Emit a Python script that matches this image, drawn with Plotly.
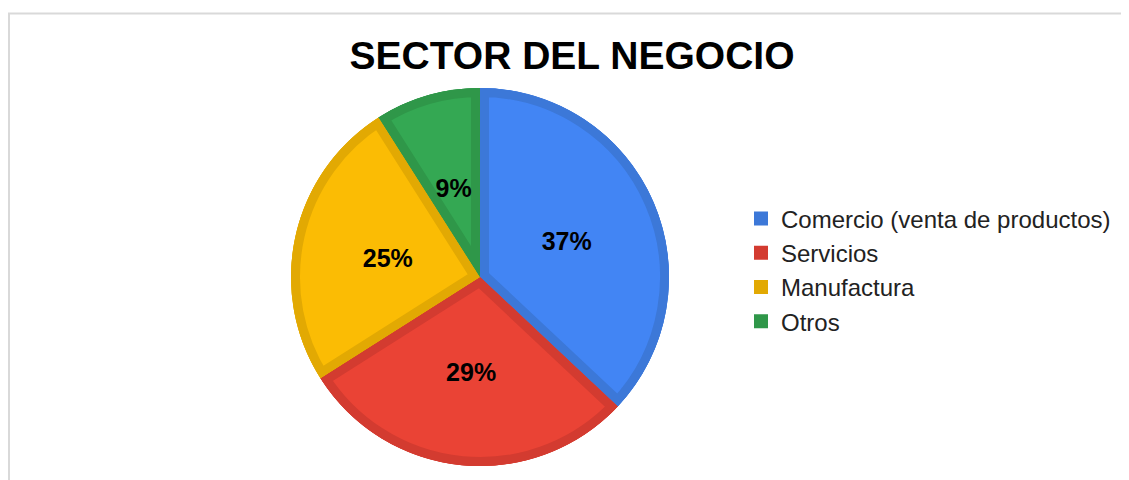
import math
import plotly.graph_objects as go

# sector data
sectors = ["Comercio (venta de productos)", "Servicios", "Manufactura", "Otros"]
shares = [37, 29, 25, 9]
fills = ["#4285F4", "#EA4335", "#FBBC04", "#34A853"]
edges = ["#3C78D8", "#D33B30", "#E2A903", "#2F9749"]

# page body has an 8px margin, so the figure is 8px smaller and shifted
W, H = 1121, 472
frame = "#D9D9D9"
R = 189          # pie radius in px
CX, CY = 472, 203  # pie centre in px (y from the bottom)
BAND = 9         # darker inner border of each slice
TEXT_DROP = 4    # plotly sits text a little high, nudge the label layer down

# slice angles from the shares (clockwise from 12 o'clock)
starts = [sum(shares[:i]) * 3.6 for i in range(len(shares))]
widths = [v * 3.6 for v in shares]
mids = [s + w / 2 for s, w in zip(starts, widths)]


def sector_bbox(a0, a1):
    # bounding box of a unit wedge (screen degrees, ccw from east), centre included
    pts = [(0.0, 0.0)]
    for a in [a0, a1] + [90 * k for k in range(-8, 9) if a0 < 90 * k < a1]:
        pts.append((math.cos(math.radians(a)), math.sin(math.radians(a))))
    xs, ys = zip(*pts)
    return min(xs), min(ys), max(xs), max(ys)


hidden_axes = dict(bgcolor="rgba(0,0,0,0)", hole=0,
                   radialaxis=dict(range=[0, 1], visible=False),
                   angularaxis=dict(direction="clockwise", rotation=90, visible=False))

fig = go.Figure()
layout_polars = {}

# base layer: full pie in the darker border colours (also gives the legend)
layout_polars["polar"] = dict(domain=dict(x=[(CX - R) / W, (CX + R) / W],
                                          y=[(CY - R) / H, (CY + R) / H]),
                              **hidden_axes)
for name, v, th, wd, ec in zip(sectors, shares, mids, widths, edges):
    fig.add_trace(go.Barpolar(r=[1], theta=[th], width=[wd],
                              name=name, subplot="polar",
                              marker=dict(color=ec, line=dict(color=ec, width=2)),
                              hovertemplate=name + ": " + str(v) + "%<extra></extra>"))

# one clipped wedge subplot per slice: a wide stroke clipped to the wedge
# leaves an even darker band on the inside of every edge
for i, (name, v, s, th, wd, fc, ec) in enumerate(
        zip(sectors, shares, starts, mids, widths, fills, edges)):
    key = "polar%d" % (i + 2)
    a0, a1 = 90 - (s + wd), 90 - s
    x0, y0, x1, y1 = sector_bbox(a0, a1)
    layout_polars[key] = dict(domain=dict(x=[(CX + R * x0) / W, (CX + R * x1) / W],
                                          y=[(CY + R * y0) / H, (CY + R * y1) / H]),
                              sector=[a0, a1], **hidden_axes)
    fig.add_trace(go.Barpolar(r=[1], theta=[th], width=[wd],
                              name=name, subplot=key, showlegend=False,
                              marker=dict(color=fc, line=dict(color=ec, width=2 * BAND)),
                              hovertemplate=name + ": " + str(v) + "%<extra></extra>"))

# percentage labels on their own layer, halfway out along each slice
key = "polar%d" % (len(shares) + 2)
cy_txt = CY - TEXT_DROP
layout_polars[key] = dict(domain=dict(x=[(CX - R) / W, (CX + R) / W],
                                      y=[(cy_txt - R) / H, (cy_txt + R) / H]),
                          **hidden_axes)
fig.add_trace(go.Scatterpolar(r=[0.5] * len(shares), theta=mids, subplot=key,
                              mode="text", text=[str(v) + "%" for v in shares],
                              cliponaxis=False,
                              textfont=dict(family="Liberation Sans, Arial", size=25,
                                            color="black", weight="bold"),
                              showlegend=False, hoverinfo="skip"))

fig.update_layout(width=W, height=H,
                  margin=dict(l=0, r=0, t=0, b=0),
                  paper_bgcolor="white",
                  plot_bgcolor="white",
                  font=dict(family="Liberation Sans, Arial", color="black"),
                  title=dict(text="SECTOR DEL NEGOCIO",
                             font=dict(size=39, weight="bold", color="black"),
                             x=564 / W, xanchor="center", xref="paper",
                             y=1 - 47 / H, yanchor="middle", yref="container"),
                  legend=dict(x=733 / W, xanchor="left",
                              y=1 - 262 / H, yanchor="middle",
                              font=dict(size=24, color="#222222"),
                              traceorder="normal",
                              bgcolor="rgba(0,0,0,0)"),
                  shapes=[dict(type="line", xref="paper", yref="paper",
                               x0=0, x1=1, y0=1 - 5.5 / H, y1=1 - 5.5 / H,
                               line=dict(color=frame, width=2)),
                          dict(type="line", xref="paper", yref="paper",
                               x0=1 / W, x1=1 / W, y0=0, y1=1 - 5 / H,
                               line=dict(color=frame, width=2))],
                  **layout_polars)

fig.write_html("out.html")
